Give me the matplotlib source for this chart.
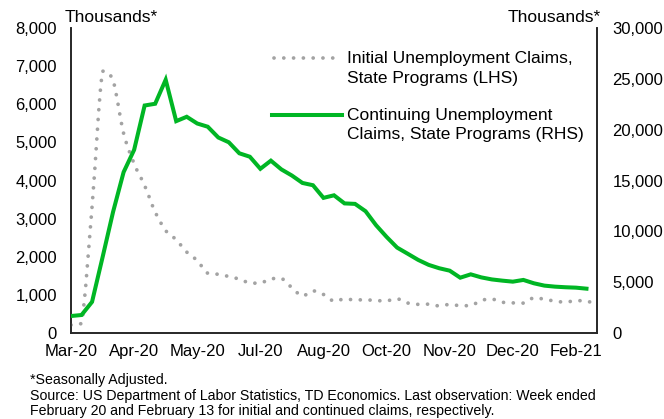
import matplotlib
matplotlib.use("Agg")
import matplotlib.pyplot as plt
from matplotlib.lines import Line2D
from matplotlib.path import Path
from matplotlib.patches import PathPatch

plt.rcParams['font.family'] = ['Liberation Sans', 'DejaVu Sans']

# Weekly observations, week ending Mar 7 2020 .. Feb 20 2021 (51 weeks)
x_labels = ["Mar-20", "Apr-20", "May-20", "Jul-20", "Aug-20", "Oct-20", "Nov-20", "Dec-20", "Feb-21"]
label_step = 6  # a label every 6 weeks

initial_claims = [211, 251, 3307, 6867, 6615, 5237, 4442, 3867, 3176, 2687,
                  2446, 2123, 1897, 1566, 1540, 1482, 1413, 1310, 1307, 1422,
                  1434, 1186, 971, 1104, 1011, 833, 893, 866, 873, 849,
                  845, 898, 787, 751, 757, 711, 748, 716, 716, 853,
                  892, 806, 790, 784, 926, 886, 836, 812, 848, 841,
                  730]

continuing_claims = [1670, 1770, 3059, 7446, 11914, 15819, 18011, 22377, 22548, 24912,
                     20838, 21268, 20606, 20289, 19231, 18760, 17676, 17338, 16151, 16951,
                     16090, 15486, 14759, 14535, 13292, 13544, 12747, 12700, 11979, 10600,
                     9450, 8400, 7800, 7190, 6700, 6370, 6130, 5440, 5770, 5470,
                     5270, 5150, 5050, 5220, 4890, 4660, 4560, 4500, 4460, 4360]

left_ticks = [0, 1000, 2000, 3000, 4000, 5000, 6000, 7000, 8000]
right_ticks = [0, 5000, 10000, 15000, 20000, 25000, 30000]

legend_labels = [["Initial Unemployment Claims,", "State Programs (LHS)"],
                 ["Continuing Unemployment", "Claims, State Programs (RHS)"]]

grey = '#A3A3A3'
green = '#00B624'
axis_col = '#262626'
dot_lw = 2.7
dot_style = (0, (0.01, 2.6))


def smooth_path(xs, ys):
    """Smoothed line through the data points (cubic Bezier segments, no overshoot)."""
    n = len(xs)
    verts = [(xs[0], ys[0])]
    codes = [Path.MOVETO]
    for i in range(n - 1):
        xm, ym = (xs[i - 1], ys[i - 1]) if i > 0 else (xs[i], ys[i])
        xp, yp = (xs[i + 2], ys[i + 2]) if i + 2 < n else (xs[i + 1], ys[i + 1])
        lo, hi = min(ys[i], ys[i + 1]), max(ys[i], ys[i + 1])
        c1y = min(max(ys[i] + (ys[i + 1] - ym) / 6, lo), hi)
        c2y = min(max(ys[i + 1] - (yp - ys[i]) / 6, lo), hi)
        c1 = (xs[i] + (xs[i + 1] - xm) / 6, c1y)
        c2 = (xs[i + 1] - (xp - xs[i]) / 6, c2y)
        verts += [c1, c2, (xs[i + 1], ys[i + 1])]
        codes += [Path.CURVE4] * 3
    return Path(verts, codes)


W, H = 664, 419
fig = plt.figure(figsize=(W/100, H/100), dpi=100)
ax = fig.add_axes([71/W, 1-333/H, (597-71)/W, (333-28)/H])
ax2 = ax.twinx()

xi = list(range(len(initial_claims)))
xc = list(range(len(continuing_claims)))

ax.add_patch(PathPatch(smooth_path(xi, initial_claims), fill=False, edgecolor=grey,
                       lw=dot_lw, linestyle=dot_style, capstyle='round', zorder=3))
ax2.plot(xc, continuing_claims, color=green, lw=2.9, solid_joinstyle='miter', zorder=3)

ax.set_xlim(0, len(initial_claims) - 1)
ax.set_ylim(0, 8000)
ax2.set_ylim(0, 30000)
ax.set_xticks([i * label_step for i in range(len(x_labels))])
ax.set_xticklabels(x_labels)
ax.set_yticks(left_ticks)
ax.set_yticklabels([f"{v:,}" for v in left_ticks])
ax2.set_yticks(right_ticks)
ax2.set_yticklabels([f"{v:,}" for v in right_ticks])

for a in (ax, ax2):
    a.tick_params(length=0, labelsize=12, colors='black')
    a.spines['top'].set_visible(False)
    for s in ('left', 'right', 'bottom'):
        a.spines[s].set_color(axis_col)
        a.spines[s].set_linewidth(1.2)
ax.tick_params(axis='y', pad=10)
ax2.tick_params(axis='y', pad=11)
ax.tick_params(axis='x', pad=8)

fig.text(65/W, 1-17/H, "Thousands*", fontsize=12.5, va='center', ha='left')
fig.text(601/W, 1-17/H, "Thousands*", fontsize=12.5, va='center', ha='right')

# manual legend (handle aligned with first text line)
fig.add_artist(Line2D([274/W, 342/W], [1-58/H, 1-58/H], color=grey, lw=dot_lw,
                      linestyle=dot_style, dash_capstyle='round'))
fig.add_artist(Line2D([272/W, 342/W], [1-115/H, 1-115/H], color=green, lw=2.9))
for (l1, l2), y0 in zip(legend_labels, [58, 115]):
    fig.text(347/W, 1-y0/H, l1, fontsize=12.5, va='center', ha='left')
    fig.text(347/W, 1-(y0+20)/H, l2, fontsize=12.5, va='center', ha='left')

fs = 10.2
fig.text(30/W, 1-380/H, "*Seasonally Adjusted.", fontsize=fs, va='center', ha='left')
fig.text(30/W, 1-396/H, "Source: US Department of Labor Statistics, TD Economics. Last observation: Week ended",
         fontsize=fs, va='center', ha='left')
fig.text(30/W, 1-411/H, "February 20 and February 13 for initial and continued claims, respectively.",
         fontsize=fs, va='center', ha='left')

fig.savefig("out.png", dpi=100)
